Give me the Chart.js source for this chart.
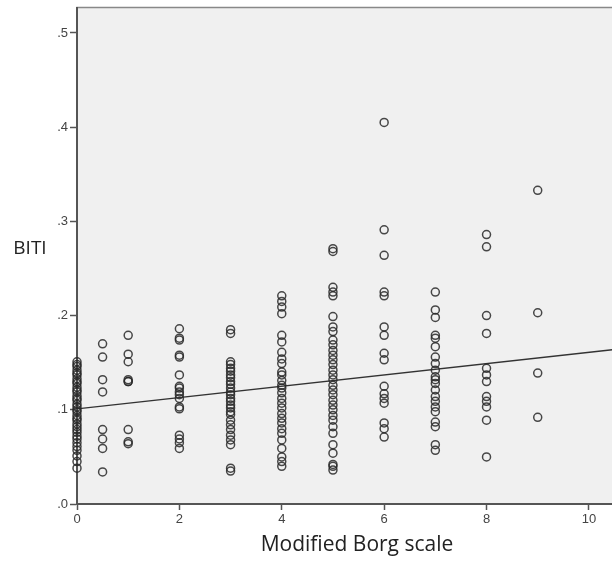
<!DOCTYPE html>
<html>
<head>
<meta charset="utf-8">
<script src="https://cdn.jsdelivr.net/npm/chart.js@4"></script>
<style>
  html, body { margin: 0; padding: 0; background: #ffffff; overflow: hidden; }
  #chart { display: block; margin-top: 2px; }
</style>
</head>
<body>
<canvas id="chart" width="620" height="561"></canvas>
<script>
// Modified Borg scale levels and BITI values
const borgLevels = [0, 0.5, 1, 2, 3, 4, 5, 6, 7, 8, 9];
const biti_0 = [0.151, 0.148, 0.146, 0.142, 0.139, 0.137, 0.133, 0.13, 0.128, 0.124, 0.121, 0.119, 0.115, 0.112,
  0.11, 0.106, 0.103, 0.1, 0.098, 0.094, 0.091, 0.089, 0.085, 0.082, 0.079, 0.076, 0.072, 0.069, 0.065, 0.061,
  0.057, 0.051, 0.045, 0.038];
const biti_05 = [0.170, 0.156, 0.132, 0.119, 0.079, 0.069, 0.059, 0.034];
const biti_1 = [0.179, 0.159, 0.151, 0.132, 0.130, 0.130, 0.079, 0.066, 0.064];
const biti_2 = [0.186, 0.176, 0.174, 0.158, 0.156, 0.137, 0.125, 0.123, 0.119, 0.116, 0.112, 0.103, 0.101, 0.073,
  0.069, 0.065, 0.059];
const biti_3 = [0.185, 0.181, 0.151, 0.148, 0.144, 0.141, 0.137, 0.134, 0.130, 0.127, 0.123, 0.119, 0.116, 0.112,
  0.109, 0.105, 0.102, 0.098, 0.095, 0.089, 0.084, 0.079, 0.073, 0.068, 0.063, 0.038, 0.035];
const biti_4 = [0.221, 0.215, 0.209, 0.202, 0.179, 0.172, 0.161, 0.154, 0.149, 0.140, 0.137, 0.131, 0.126, 0.123,
  0.118, 0.112, 0.107, 0.102, 0.096, 0.091, 0.086, 0.080, 0.075, 0.068, 0.059, 0.050, 0.045, 0.040];
const biti_5 = [0.271, 0.268, 0.230, 0.225, 0.221, 0.199, 0.188, 0.183, 0.174, 0.169, 0.163, 0.158, 0.153, 0.148,
  0.142, 0.137, 0.132, 0.126, 0.121, 0.116, 0.110, 0.105, 0.100, 0.094, 0.089, 0.082, 0.075, 0.063, 0.054,
  0.042, 0.040, 0.036];
const biti_6 = [0.405, 0.291, 0.264, 0.225, 0.221, 0.188, 0.179, 0.160, 0.153, 0.125, 0.117, 0.112, 0.107, 0.086,
  0.080, 0.071];
const biti_7 = [0.225, 0.206, 0.198, 0.179, 0.176, 0.167, 0.156, 0.149, 0.142, 0.135, 0.132, 0.128, 0.121, 0.114,
  0.109, 0.103, 0.098, 0.087, 0.082, 0.063, 0.057];
const biti_8 = [0.286, 0.273, 0.200, 0.181, 0.144, 0.137, 0.130, 0.114, 0.109, 0.103, 0.089, 0.050];
const biti_9 = [0.333, 0.203, 0.139, 0.092];
const bitiByLevel = [biti_0, biti_05, biti_1, biti_2, biti_3, biti_4, biti_5, biti_6, biti_7, biti_8, biti_9];

// fit line end points
const fitX = [0, 10.5];
const fitY = [0.101, 0.164];

const xTicks = [0, 2, 4, 6, 8, 10];
const yTicks = [0, 0.1, 0.2, 0.3, 0.4, 0.5];

const points = [];
borgLevels.forEach((lvl, i) => {
  bitiByLevel[i].forEach((v) => {
    points.push({ x: lvl, y: v });
  });
});

const fitLine = fitX.map((x, i) => ({ x: x, y: fitY[i] }));

const framePlugin = {
  id: "frame",
  beforeDraw(chart) {
    const a = chart.chartArea;
    const ctx = chart.ctx;
    ctx.save();
    ctx.fillStyle = "#f0f0f0";
    ctx.fillRect(a.left, a.top, a.right - a.left, a.bottom - a.top);
    ctx.strokeStyle = "#888888";
    ctx.lineWidth = 1.5;
    ctx.strokeRect(a.left, a.top, a.right - a.left, a.bottom - a.top);
    ctx.restore();
  },
  afterDraw(chart) {
    const ctx = chart.ctx;
    ctx.save();
    ctx.fillStyle = "#222222";
    ctx.textAlign = "center";
    ctx.textBaseline = "middle";
    ctx.font = "21px 'Open Sans'";
    ctx.fillText("Modified Borg scale", 357, 543);
    ctx.font = "19px 'Open Sans'";
    ctx.fillText("BITI", 30, 247);
    ctx.restore();
  },
};

new Chart(document.getElementById("chart"), {
  type: "scatter",
  data: {
    datasets: [
      {
        label: "BITI",
        data: points,
        pointStyle: "circle",
        pointRadius: 4,
        pointBorderWidth: 1.5,
        pointBorderColor: "rgba(40,40,40,0.85)",
        pointBackgroundColor: "rgba(0,0,0,0)",
        clip: false,
      },
      {
        type: "line",
        label: "Fit",
        data: fitLine,
        borderColor: "#333333",
        borderWidth: 1.3,
        pointRadius: 0,
        fill: false,
      },
    ],
  },
  options: {
    responsive: false,
    animation: false,
    devicePixelRatio: 1,
    layout: { padding: { left: 0, top: 5, right: 4, bottom: 0 } },
    plugins: {
      legend: { display: false },
      tooltip: { enabled: false },
    },
    scales: {
      x: {
        type: "linear",
        min: 0,
        max: 10.5,
        afterBuildTicks: (scale) => {
          scale.ticks = xTicks.map((v) => ({ value: v }));
        },
        afterFit: (scale) => {
          scale.height = 59;
        },
        grid: {
          drawOnChartArea: false,
          drawTicks: true,
          tickLength: 6,
          tickColor: "#555555",
          tickWidth: 1.5,
        },
        border: { display: true, color: "#555555", width: 2 },
        ticks: {
          color: "#444444",
          font: { family: "'Liberation Sans'", size: 13 },
          padding: 2,
          maxRotation: 0,
          callback: (v) => String(v),
        },
      },
      y: {
        type: "linear",
        min: 0,
        max: 0.527,
        afterBuildTicks: (scale) => {
          scale.ticks = yTicks.map((v) => ({ value: v }));
        },
        afterFit: (scale) => {
          scale.width = 77;
          scale.paddingTop = 0;
          scale.paddingBottom = 0;
        },
        grid: {
          drawOnChartArea: false,
          drawTicks: true,
          tickLength: 7,
          tickColor: "#555555",
          tickWidth: 1.5,
        },
        border: { display: true, color: "#555555", width: 2 },
        ticks: {
          color: "#444444",
          font: { family: "'Liberation Sans'", size: 13, lineHeight: 1 },
          padding: 2,
          callback: (v) => "." + Math.round(v * 10),
        },
      },
    },
  },
  plugins: [framePlugin],
});
</script>
</body>
</html>
